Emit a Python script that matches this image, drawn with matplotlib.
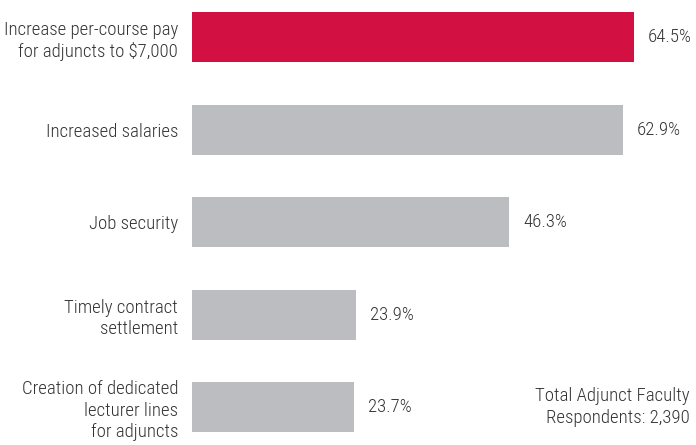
import matplotlib
matplotlib.use("Agg")
import matplotlib.pyplot as plt
from matplotlib import font_manager

# survey results
categories = [
    "Increase per-course pay\nfor adjuncts to $7,000",
    "Increased salaries",
    "Job security",
    "Timely contract\nsettlement",
    "Creation of dedicated\nlecturer lines\nfor adjuncts",
]
values = [64.5, 62.9, 46.3, 23.9, 23.7]
note = "Total Adjunct Faculty\nRespondents: 2,390"

# pick a narrow face if one is installed
names = {f.name for f in font_manager.fontManager.ttflist}
family = "DejaVu Sans"
for cand in ["Roboto Condensed", "Liberation Sans Narrow", "Open Sans Condensed"]:
    if cand in names:
        family = cand
        break
plt.rcParams["font.family"] = [family, "DejaVu Sans"]
plt.rcParams["font.weight"] = "light"

red = "#D21042"
gray = "#BCBDC0"
txt = "#333333"

fig = plt.figure(figsize=(6.96, 4.45), dpi=100)
ax = fig.add_axes([192 / 696, 0, 500 / 696, 1])

pos = list(range(len(values)))
colors = [red] + [gray] * (len(values) - 1)
ax.barh(pos, values, height=0.54, color=colors)

for p, v in zip(pos, values):
    ax.annotate(f"{v}%", (v, p), xytext=(14, 0), textcoords="offset pixels",
                ha="left", va="center", fontsize=13.5, color=txt)

ax.set_xlim(0, 500 / 6.85)
ax.set_ylim(4.41, -0.4)
ax.set_yticks(pos, categories, fontsize=13.5, color=txt, linespacing=1.25)
ax.tick_params(axis="y", length=0, pad=10)
ax.set_xticks([])
for s in ax.spines.values():
    s.set_visible(False)

ax.text(0.995, 4.0, note, transform=ax.get_yaxis_transform(), ha="right", va="center",
        fontsize=13.5, color=txt, linespacing=1.25, multialignment="right")

fig.savefig("out.png", dpi=100)
